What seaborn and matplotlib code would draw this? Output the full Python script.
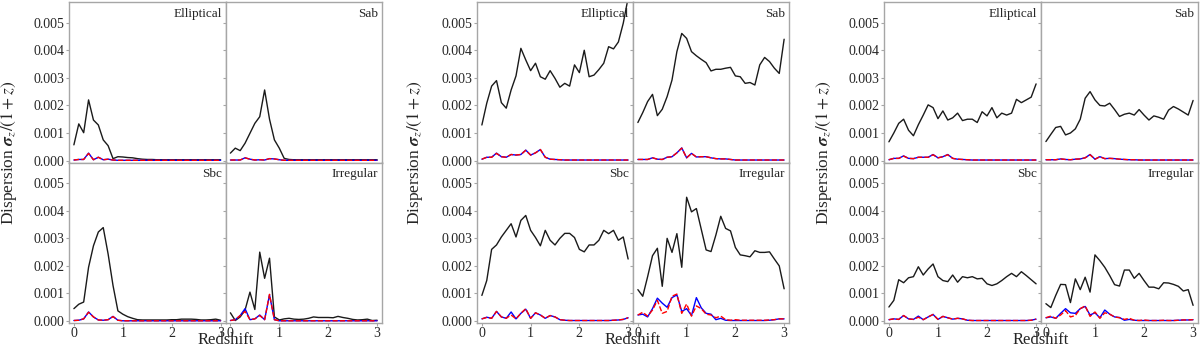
import numpy as np
import pandas as pd
import matplotlib
matplotlib.use("Agg")
import matplotlib.pyplot as plt
import seaborn as sns
from matplotlib.ticker import FormatStrFormatter, FixedLocator

# ---------------- data (units of 1e-3) ----------------
redshift = [round(0.1 * i, 1) for i in range(31)]
types = ["Elliptical", "Sab", "Sbc", "Irregular"]

# Group 1
g1_ell_k = [0.57, 1.33, 1.01, 2.2, 1.47, 1.29, 0.75, 0.54, 0.07, 0.14, 0.13, 0.11, 0.10, 0.07, 0.05, 0.04, 0.04, 0.03, 0.03, 0.03, 0.03, 0.03, 0.03, 0.03, 0.03, 0.03, 0.03, 0.03, 0.03, 0.03, 0.03]
g1_ell_b = [0.02, 0.04, 0.04, 0.27, 0.03, 0.12, 0.03, 0.05, 0.02, 0.01, 0.01, 0.01, 0.01, 0.01, 0.01, 0.01, 0.01, 0.01, 0.01, 0.01, 0.01, 0.01, 0.01, 0.01, 0.01, 0.01, 0.01, 0.01, 0.01, 0.01, 0.01]
g1_ell_r = [0.02, 0.04, 0.04, 0.26, 0.03, 0.12, 0.03, 0.05, 0.02, 0.01, 0.01, 0.01, 0.01, 0.01, 0.01, 0.01, 0.01, 0.01, 0.01, 0.01, 0.01, 0.01, 0.01, 0.01, 0.01, 0.01, 0.01, 0.01, 0.01, 0.01, 0.01]
g1_sab_k = [0.27, 0.45, 0.36, 0.63, 0.99, 1.35, 1.59, 2.56, 1.5, 0.75, 0.45, 0.08, 0.04, 0.03, 0.03, 0.03, 0.03, 0.03, 0.03, 0.03, 0.03, 0.03, 0.03, 0.03, 0.03, 0.03, 0.03, 0.03, 0.03, 0.03, 0.03]
g1_sab_b = [0.02, 0.02, 0.02, 0.10, 0.05, 0.02, 0.03, 0.02, 0.07, 0.06, 0.03, 0.01, 0.01, 0.01, 0.01, 0.01, 0.01, 0.01, 0.01, 0.01, 0.01, 0.01, 0.01, 0.01, 0.01, 0.01, 0.01, 0.01, 0.01, 0.01, 0.01]
g1_sab_r = [0.02, 0.02, 0.02, 0.10, 0.05, 0.02, 0.03, 0.02, 0.07, 0.06, 0.03, 0.01, 0.01, 0.01, 0.01, 0.01, 0.01, 0.01, 0.01, 0.01, 0.01, 0.01, 0.01, 0.01, 0.01, 0.01, 0.01, 0.01, 0.01, 0.01, 0.01]
g1_sbc_k = [0.45, 0.61, 0.69, 1.95, 2.73, 3.23, 3.39, 2.43, 1.29, 0.37, 0.25, 0.16, 0.10, 0.05, 0.04, 0.04, 0.04, 0.04, 0.04, 0.04, 0.05, 0.05, 0.07, 0.07, 0.07, 0.06, 0.04, 0.04, 0.05, 0.07, 0.03]
g1_sbc_b = [0.02, 0.03, 0.08, 0.33, 0.15, 0.04, 0.03, 0.05, 0.17, 0.03, 0.01, 0.01, 0.01, 0.01, 0.01, 0.01, 0.01, 0.01, 0.01, 0.01, 0.01, 0.01, 0.01, 0.01, 0.01, 0.01, 0.01, 0.01, 0.01, 0.01, 0.01]
g1_sbc_r = [0.02, 0.03, 0.08, 0.32, 0.15, 0.04, 0.03, 0.05, 0.16, 0.03, 0.01, 0.01, 0.01, 0.01, 0.01, 0.01, 0.01, 0.01, 0.01, 0.01, 0.01, 0.01, 0.01, 0.01, 0.01, 0.01, 0.01, 0.01, 0.01, 0.01, 0.01]
g1_irr_k = [0.30, 0.02, 0.15, 0.40, 1.05, 0.42, 2.5, 1.55, 2.28, 0.15, 0.04, 0.08, 0.10, 0.07, 0.06, 0.07, 0.10, 0.15, 0.13, 0.13, 0.13, 0.12, 0.17, 0.13, 0.10, 0.06, 0.04, 0.05, 0.07, 0.02, 0.03]
g1_irr_b = [0.02, 0.05, 0.20, 0.45, 0.05, 0.08, 0.22, 0.05, 0.95, 0.05, 0.01, 0.01, 0.01, 0.01, 0.01, 0.01, 0.01, 0.01, 0.01, 0.01, 0.01, 0.01, 0.01, 0.01, 0.01, 0.01, 0.01, 0.01, 0.01, 0.01, 0.01]
g1_irr_r = [0.02, 0.05, 0.20, 0.35, 0.05, 0.08, 0.20, 0.05, 0.97, 0.05, 0.01, 0.01, 0.01, 0.01, 0.01, 0.01, 0.01, 0.01, 0.01, 0.01, 0.01, 0.01, 0.01, 0.01, 0.01, 0.01, 0.01, 0.01, 0.01, 0.01, 0.01]

# Group 2
g2_ell_k = [1.29, 2.08, 2.7, 2.9, 2.1, 1.9, 2.56, 3.07, 4.07, 3.65, 3.26, 3.53, 3.04, 2.95, 3.26, 2.98, 2.66, 2.8, 2.7, 3.47, 3.19, 4.0, 3.04, 3.1, 3.3, 3.53, 4.13, 4.05, 4.3, 4.98, 5.9]
g2_ell_b = [0.05, 0.12, 0.12, 0.27, 0.14, 0.12, 0.22, 0.20, 0.22, 0.38, 0.20, 0.28, 0.40, 0.12, 0.05, 0.04, 0.03, 0.02, 0.02, 0.02, 0.02, 0.02, 0.02, 0.02, 0.02, 0.02, 0.02, 0.02, 0.02, 0.02, 0.02]
g2_ell_r = [0.05, 0.12, 0.12, 0.26, 0.14, 0.12, 0.22, 0.20, 0.22, 0.37, 0.20, 0.28, 0.40, 0.12, 0.05, 0.04, 0.03, 0.02, 0.02, 0.02, 0.02, 0.02, 0.02, 0.02, 0.02, 0.02, 0.02, 0.02, 0.02, 0.02, 0.02]
g2_sab_k = [1.38, 1.74, 2.14, 2.4, 1.63, 1.86, 2.32, 2.92, 3.95, 4.61, 4.43, 3.95, 3.8, 3.67, 3.55, 3.25, 3.31, 3.31, 3.35, 3.38, 3.07, 3.04, 2.8, 2.83, 2.74, 3.47, 3.74, 3.59, 3.35, 3.16, 4.4]
g2_sab_b = [0.04, 0.04, 0.04, 0.10, 0.05, 0.04, 0.12, 0.14, 0.28, 0.46, 0.10, 0.26, 0.13, 0.14, 0.14, 0.10, 0.07, 0.06, 0.06, 0.04, 0.02, 0.02, 0.02, 0.02, 0.02, 0.02, 0.02, 0.02, 0.02, 0.02, 0.02]
g2_sab_r = [0.04, 0.04, 0.04, 0.10, 0.05, 0.04, 0.12, 0.14, 0.28, 0.45, 0.10, 0.26, 0.13, 0.14, 0.14, 0.10, 0.07, 0.06, 0.06, 0.04, 0.02, 0.02, 0.02, 0.02, 0.02, 0.02, 0.02, 0.02, 0.02, 0.02, 0.02]
g2_sbc_k = [0.93, 1.47, 2.6, 2.76, 3.05, 3.29, 3.53, 3.05, 3.65, 3.83, 3.29, 3.03, 2.73, 3.29, 2.93, 2.76, 3.0, 3.18, 3.18, 3.03, 2.6, 2.51, 2.76, 2.76, 2.93, 3.29, 3.17, 3.29, 2.93, 3.05, 2.25]
g2_sbc_b = [0.08, 0.14, 0.10, 0.35, 0.15, 0.10, 0.33, 0.08, 0.28, 0.43, 0.10, 0.30, 0.22, 0.10, 0.20, 0.15, 0.05, 0.03, 0.02, 0.02, 0.02, 0.02, 0.02, 0.02, 0.02, 0.02, 0.02, 0.03, 0.04, 0.06, 0.12]
g2_sbc_r = [0.08, 0.13, 0.10, 0.35, 0.15, 0.10, 0.22, 0.08, 0.28, 0.45, 0.10, 0.30, 0.22, 0.10, 0.20, 0.15, 0.05, 0.03, 0.02, 0.02, 0.02, 0.02, 0.02, 0.02, 0.02, 0.02, 0.02, 0.03, 0.04, 0.06, 0.12]
g2_irr_k = [1.14, 0.9, 1.61, 2.37, 2.64, 1.26, 3.0, 2.49, 3.17, 1.95, 4.49, 3.96, 4.08, 3.33, 2.58, 2.52, 3.12, 3.8, 3.36, 3.27, 2.67, 2.4, 2.37, 2.33, 2.55, 2.49, 2.49, 2.51, 2.25, 2.0, 1.17]
g2_irr_b = [0.22, 0.25, 0.15, 0.45, 0.83, 0.65, 0.50, 0.85, 0.95, 0.35, 0.45, 0.20, 0.85, 0.48, 0.28, 0.25, 0.05, 0.10, 0.03, 0.02, 0.02, 0.02, 0.02, 0.02, 0.02, 0.02, 0.02, 0.03, 0.05, 0.08, 0.08]
g2_irr_r = [0.22, 0.32, 0.18, 0.40, 0.75, 0.28, 0.35, 0.90, 0.98, 0.28, 0.62, 0.18, 0.55, 0.45, 0.25, 0.22, 0.12, 0.18, 0.05, 0.03, 0.05, 0.03, 0.03, 0.03, 0.03, 0.03, 0.03, 0.04, 0.05, 0.08, 0.08]

# Group 3
g3_ell_k = [0.68, 1.0, 1.35, 1.5, 1.1, 0.9, 1.3, 1.65, 2.02, 1.92, 1.52, 1.8, 1.47, 1.55, 1.72, 1.45, 1.5, 1.5, 1.38, 1.77, 1.62, 1.92, 1.55, 1.72, 1.65, 1.72, 2.22, 2.1, 2.2, 2.3, 2.78]
g3_ell_b = [0.03, 0.08, 0.08, 0.17, 0.08, 0.07, 0.12, 0.12, 0.12, 0.22, 0.10, 0.14, 0.22, 0.08, 0.05, 0.04, 0.03, 0.02, 0.02, 0.02, 0.02, 0.02, 0.02, 0.02, 0.02, 0.02, 0.02, 0.02, 0.02, 0.02, 0.02]
g3_ell_r = [0.03, 0.08, 0.08, 0.16, 0.08, 0.07, 0.12, 0.12, 0.12, 0.21, 0.10, 0.14, 0.21, 0.08, 0.05, 0.04, 0.03, 0.02, 0.02, 0.02, 0.02, 0.02, 0.02, 0.02, 0.02, 0.02, 0.02, 0.02, 0.02, 0.02, 0.02]
g3_sab_k = [0.69, 0.95, 1.2, 1.24, 0.93, 1.0, 1.15, 1.5, 2.26, 2.5, 2.2, 2.0, 1.98, 2.08, 1.85, 1.6, 1.68, 1.72, 1.65, 1.85, 1.65, 1.47, 1.62, 1.57, 1.5, 1.83, 1.96, 1.87, 1.76, 1.65, 2.18]
g3_sab_b = [0.03, 0.03, 0.03, 0.06, 0.04, 0.03, 0.05, 0.06, 0.10, 0.22, 0.05, 0.14, 0.07, 0.08, 0.07, 0.05, 0.04, 0.03, 0.03, 0.02, 0.02, 0.02, 0.02, 0.02, 0.02, 0.02, 0.02, 0.02, 0.02, 0.02, 0.02]
g3_sab_r = [0.03, 0.03, 0.03, 0.06, 0.04, 0.03, 0.05, 0.06, 0.10, 0.21, 0.05, 0.14, 0.07, 0.08, 0.07, 0.05, 0.04, 0.03, 0.03, 0.02, 0.02, 0.02, 0.02, 0.02, 0.02, 0.02, 0.02, 0.02, 0.02, 0.02, 0.02]
g3_sbc_k = [0.51, 0.75, 1.5, 1.39, 1.57, 1.61, 1.97, 1.67, 1.89, 2.07, 1.61, 1.47, 1.43, 1.67, 1.41, 1.61, 1.57, 1.61, 1.53, 1.55, 1.35, 1.29, 1.35, 1.47, 1.61, 1.73, 1.61, 1.79, 1.65, 1.5, 1.35]
g3_sbc_b = [0.05, 0.08, 0.06, 0.20, 0.08, 0.06, 0.18, 0.05, 0.15, 0.24, 0.06, 0.17, 0.12, 0.07, 0.10, 0.08, 0.03, 0.02, 0.02, 0.02, 0.02, 0.02, 0.02, 0.02, 0.02, 0.02, 0.02, 0.02, 0.02, 0.03, 0.07]
g3_sbc_r = [0.05, 0.08, 0.06, 0.20, 0.08, 0.06, 0.14, 0.05, 0.15, 0.24, 0.06, 0.17, 0.12, 0.07, 0.10, 0.08, 0.03, 0.02, 0.02, 0.02, 0.02, 0.02, 0.02, 0.02, 0.02, 0.02, 0.02, 0.02, 0.02, 0.03, 0.07]
g3_irr_k = [0.63, 0.49, 0.93, 1.33, 1.32, 0.67, 1.53, 1.14, 1.59, 1.05, 2.4, 2.19, 1.95, 1.65, 1.32, 1.27, 1.85, 1.85, 1.55, 1.73, 1.47, 1.23, 1.23, 1.17, 1.39, 1.38, 1.33, 1.26, 1.09, 1.14, 0.57]
g3_irr_b = [0.12, 0.15, 0.10, 0.28, 0.45, 0.30, 0.28, 0.45, 0.53, 0.22, 0.30, 0.12, 0.40, 0.25, 0.15, 0.13, 0.03, 0.06, 0.03, 0.02, 0.02, 0.02, 0.02, 0.02, 0.02, 0.02, 0.02, 0.03, 0.04, 0.04, 0.05]
g3_irr_r = [0.12, 0.18, 0.10, 0.22, 0.38, 0.15, 0.20, 0.45, 0.55, 0.17, 0.33, 0.10, 0.30, 0.25, 0.15, 0.12, 0.06, 0.10, 0.03, 0.02, 0.04, 0.02, 0.02, 0.02, 0.03, 0.02, 0.02, 0.03, 0.04, 0.04, 0.05]

groups = [
    {"Elliptical": (g1_ell_k, g1_ell_b, g1_ell_r), "Sab": (g1_sab_k, g1_sab_b, g1_sab_r),
     "Sbc": (g1_sbc_k, g1_sbc_b, g1_sbc_r), "Irregular": (g1_irr_k, g1_irr_b, g1_irr_r)},
    {"Elliptical": (g2_ell_k, g2_ell_b, g2_ell_r), "Sab": (g2_sab_k, g2_sab_b, g2_sab_r),
     "Sbc": (g2_sbc_k, g2_sbc_b, g2_sbc_r), "Irregular": (g2_irr_k, g2_irr_b, g2_irr_r)},
    {"Elliptical": (g3_ell_k, g3_ell_b, g3_ell_r), "Sab": (g3_sab_k, g3_sab_b, g3_sab_r),
     "Sbc": (g3_sbc_k, g3_sbc_b, g3_sbc_r), "Irregular": (g3_irr_k, g3_irr_b, g3_irr_r)},
]

# ---------------- style ----------------
sns.set_theme(style="white")
plt.rcParams["font.family"] = ["Liberation Serif", "DejaVu Serif"]
plt.rcParams["mathtext.fontset"] = "stix"

SPINE = "#a6a6a6"
fig = plt.figure(figsize=(12, 3.49), dpi=100)

lefts = [69, 477, 884]
rights = [382, 789, 1198]
ylab_x = [9, 415, 824]
W, H = 1200.0, 349.0

series_style = [("#1a1a1a", "-", 1.0), ("#0000ff", "-", 1.0), ("#ff0000", "--", 1.0)]

for gi, grp in enumerate(groups):
    gs = fig.add_gridspec(2, 2, left=lefts[gi] / W, right=rights[gi] / W,
                          top=1 - 2 / H, bottom=1 - 323 / H, wspace=0, hspace=0)
    for k, t in enumerate(types):
        r, c = divmod(k, 2)
        ax = fig.add_subplot(gs[r, c])
        for (col, ls, lw), vals in zip(series_style, grp[t]):
            df = pd.DataFrame({"z": redshift, "d": np.array(vals) * 1e-3})
            sns.lineplot(data=df, x="z", y="d", color=col, linestyle=ls,
                         linewidth=lw, ax=ax, legend=False)
        ax.set_xlim(-0.1, 3.1)
        ax.set_ylim(-0.00007, 0.00575)
        ax.set_xlabel("")
        ax.set_ylabel("")
        ax.yaxis.set_major_locator(FixedLocator([0, 0.001, 0.002, 0.003, 0.004, 0.005]))
        ax.yaxis.set_major_formatter(FormatStrFormatter("%.3f"))
        ax.xaxis.set_major_locator(FixedLocator([0, 1, 2, 3]))
        ax.tick_params(axis="both", which="major", direction="out", length=2,
                       width=0.8, color=SPINE, labelsize=10, pad=1.5,
                       left=True, bottom=(r == 1))
        ax.tick_params(axis="x", pad=1.0)
        if c == 1:
            ax.tick_params(labelleft=False)
        if r == 0:
            ax.tick_params(labelbottom=False)
        for sp in ax.spines.values():
            sp.set_color(SPINE)
            sp.set_linewidth(1.0)
        ax.text(0.975, 0.965, t, transform=ax.transAxes, ha="right", va="top",
                fontsize=9.5)
    ylab = fig.text(ylab_x[gi] / W, 1 - 153 / H,
                    r"Dispersion $\boldsymbol{\sigma}_z/(1+z)$",
                    rotation=90, ha="center", va="center", fontsize=12.5)
    try:
        fig.canvas.draw()
    except Exception:
        ylab.set_text(r"Dispersion $\sigma_z/(1+z)$")
    fig.text(((lefts[gi] + rights[gi]) / 2) / W, 1.0 / H, "Redshift",
             ha="center", va="bottom", fontsize=12)

fig.savefig("out.png", dpi=100)
